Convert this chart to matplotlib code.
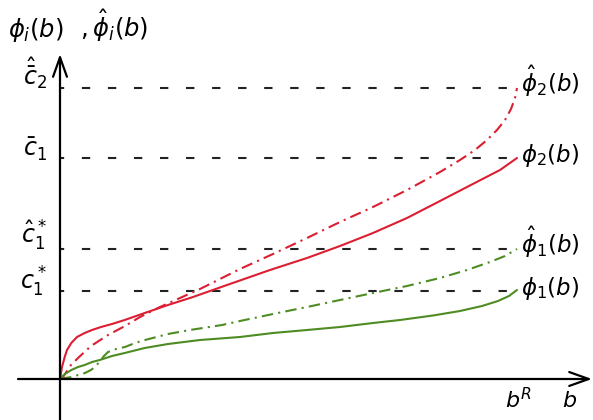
import matplotlib
matplotlib.use("Agg")
import matplotlib.pyplot as plt

plt.rcParams["mathtext.fontset"] = "dejavusans"

# curve samples (x measured right of origin, y measured up from axis)
phi2_x = [0, 0.7, 2, 4.7, 7, 11.3, 17, 24.7, 32, 41, 52, 64.7, 84.7, 108, 133, 167, 210, 247,
          280, 313, 347, 380, 407, 440, 457]
phi2_y = [0, 4, 12, 22, 29, 36, 42, 46, 49, 52, 55, 59, 66, 74, 82, 94, 109, 121,
          133, 146, 161, 178, 192, 209, 221]

phi2h_x = [0, 3, 7, 11, 18, 31, 48, 65, 80, 100, 120, 140, 162, 180, 213, 247, 280, 313, 347,
           380, 400, 415, 427, 437, 445, 451, 455, 457]
phi2h_y = [0, 2, 8, 14, 21, 33, 44, 53, 62, 72, 81, 90, 101, 110, 125, 141, 157, 172, 189,
           207, 219, 229, 239, 249, 259, 270, 281, 291]

phi1_x = [0, 1.3, 5, 11.3, 18, 24.7, 32, 39.7, 52, 64.7, 84.7, 108, 140, 180, 213, 247, 280,
          313, 340, 373, 400, 422, 438, 449, 457]
phi1_y = [0, 2, 5, 9, 12, 14, 17, 19, 23, 26, 31, 35, 39, 42, 46, 49, 52,
          56, 59, 63.5, 68, 73, 78, 83, 89]

phi1h_x = [0, 5, 12, 18, 25, 31, 36, 40, 44, 48, 56, 65, 75, 85, 108, 130, 162, 180, 213, 247,
           280, 313, 347, 380, 407, 430, 445, 457]
phi1h_y = [0, 1, 2, 4, 6, 9, 13, 18, 23, 27, 30, 32, 36, 39, 45, 49, 54, 58, 65, 72,
           79, 86, 93, 101, 109, 117, 123, 130]

b_R = 457
levels = [291, 221, 130, 88]
level_labels = [r"$\hat{\bar{c}}_2$", r"$\bar{c}_1$", r"$\hat{c}_1^*$", r"$c_1^*$"]
level_offsets = [3, 1, 5, 1]
curve_labels = [r"$\hat{\phi}_2(b)$", r"$\phi_2(b)$", r"$\hat{\phi}_1(b)$", r"$\phi_1(b)$"]

red = "#dc1e32"
green = "#4e8c23"

fig = plt.figure(figsize=(5.93, 4.2), dpi=100)
ax = fig.add_axes([0, 0, 1, 1])
ax.set_xlim(-60, 533)
ax.set_ylim(-41, 379)
ax.axis("off")

# axes with open arrow heads
arrow = dict(arrowstyle="->,head_length=1.4,head_width=0.5", lw=1.6, color="black",
             shrinkA=0, shrinkB=0)
ax.annotate("", xy=(532, 0), xytext=(-42, 0), arrowprops=arrow)
ax.annotate("", xy=(0, 325), xytext=(0, -41), arrowprops=arrow)

# dashed reference levels
for lv, lab, off, clab in zip(levels, level_labels, level_offsets, curve_labels):
    ax.plot([0, b_R], [lv, lv], color="#222222", lw=1.5, linestyle=(2, (4, 8.5)))
    ax.text(-13, lv + off, lab, fontsize=17, ha="right", va="baseline")
    ax.text(b_R + 4, lv - 4, clab, fontsize=16.5, ha="left", va="baseline")

dashdot = (0, (5.5, 2.5, 1, 2.5))
ax.plot(phi2_x, phi2_y, color=red, lw=1.5, solid_capstyle="round")
ax.plot(phi2h_x, phi2h_y, color=red, lw=1.5, linestyle=dashdot)
ax.plot(phi1_x, phi1_y, color=green, lw=1.5, solid_capstyle="round")
ax.plot(phi1h_x, phi1h_y, color=green, lw=1.5, linestyle=dashdot)

ax.text(-52, 342, r"$\phi_i(b)$", fontsize=17.5, ha="left", va="baseline")
ax.text(20, 342, r"$,\hat{\phi}_i(b)$", fontsize=17.5, ha="left", va="baseline")
ax.text(b_R - 12, -29, r"$b^R$", fontsize=16, ha="left", va="baseline")
ax.text(502, -28, r"$b$", fontsize=16, ha="left", va="baseline")

fig.savefig("out.png", dpi=100)
